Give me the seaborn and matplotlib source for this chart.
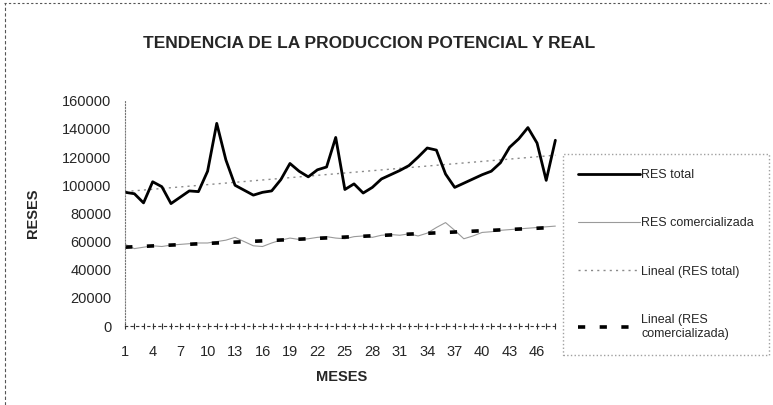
import pandas as pd
import seaborn as sns
import matplotlib.pyplot as plt
import numpy as np

meses = list(range(1, 49))
res_total = [95000, 94000, 87500, 102500, 99000, 87000, 91500, 96000, 95500, 110000,
             144000, 118000, 100000, 96500, 93000, 95000, 96000, 104000, 115500, 110000,
             106000, 111000, 113000, 134000, 97000, 101000, 94500, 98500, 104500, 107500,
             110500, 114000, 120000, 126500, 125000, 108000, 98500, 101500, 104500, 107500,
             110000, 116000, 127000, 133000, 141000, 130000, 103500, 132000]
res_comercializada = [58000, 55000, 56000, 57000, 56500, 57500, 58000, 58500, 59000, 59000,
                      60000, 61000, 63000, 60000, 57000, 56500, 59000, 61000, 62500, 61500,
                      62000, 63000, 63500, 62500, 62000, 63500, 64000, 63000, 64500, 65000,
                      64500, 65500, 64000, 66000, 70000, 73500, 68000, 62000, 64000, 66500,
                      67000, 68000, 68500, 69000, 69500, 70000, 70500, 71000]
y_ticks = [0, 20000, 40000, 60000, 80000, 100000, 120000, 140000, 160000]
x_ticks = list(range(1, 48, 3))

df = pd.DataFrame({"mes": meses, "total": res_total, "comer": res_comercializada})
# tendencias lineales (como en Excel)
p1 = np.polyfit(df["mes"], df["total"], 1)
p2 = np.polyfit(df["mes"], df["comer"], 1)
df["lin_total"] = np.polyval(p1, df["mes"])
df["lin_comer"] = np.polyval(p2, df["mes"])

sns.set_style("white")
plt.rcParams["font.family"] = ["Liberation Sans", "DejaVu Sans"]

fig = plt.figure(figsize=(7.73, 4.05), dpi=100)
ax = fig.add_axes([0.162, 0.195, 0.56, 0.556])

sns.lineplot(data=df, x="mes", y="comer", ax=ax, color="#9a9a9a", lw=0.8, label="RES comercializada")
sns.lineplot(data=df, x="mes", y="lin_total", ax=ax, color="#8a8a8a", lw=1.0,
             linestyle=(0, (1.5, 3)), label="Lineal (RES total)")
sns.lineplot(data=df, x="mes", y="lin_comer", ax=ax, color="black", lw=2.6,
             linestyle=(0, (2, 4)), label="Lineal (RES\ncomercializada)")
sns.lineplot(data=df, x="mes", y="total", ax=ax, color="black", lw=2.0, label="RES total")
for ln in ax.lines:
    ln.set_solid_joinstyle("round")

ax.set_xlim(1, 48.3)
ax.set_ylim(0, 160000)
ax.set_xticks(x_ticks)
ax.set_xticks(meses, minor=True)
ax.set_yticks(y_ticks)
ax.tick_params(axis="x", which="both", bottom=True, direction="inout", length=5, width=0.8,
               color="#333333", labelsize=10.5, pad=11)
ax.tick_params(axis="y", length=0, labelsize=10.5, pad=10)
for s in ["top", "right"]:
    ax.spines[s].set_visible(False)
ax.spines["left"].set_linestyle(":")
ax.spines["left"].set_color("#777777")
ax.spines["bottom"].set_linestyle((0, (2, 3)))
ax.spines["bottom"].set_color("#333333")
ax.set_xlabel("MESES", fontsize=10.5, fontweight="bold", labelpad=8)
ax.set_ylabel("RESES", fontsize=10.5, fontweight="bold", labelpad=16)

fig.text(0.478, 0.893, "TENDENCIA DE LA PRODUCCION POTENCIAL Y REAL",
         ha="center", va="center", fontsize=12.5, fontweight="bold")

ax.get_legend().remove()
h, l = ax.get_legend_handles_labels()
order = [3, 0, 1, 2]
leg = fig.legend([h[i] for i in order], [l[i] for i in order], loc="center left",
                 bbox_to_anchor=(0.728, 0.372), frameon=True, fontsize=9,
                 handlelength=5, labelspacing=2.9, borderpad=1.2, fancybox=False,
                 handletextpad=0.1, borderaxespad=0)
leg.get_frame().set_linestyle(":")
leg.get_frame().set_edgecolor("#888888")

# borde punteado de la hoja
fig.add_artist(plt.Line2D([0.005, 0.995], [0.993, 0.993], transform=fig.transFigure,
                          color="#555555", lw=0.8, linestyle=(0, (2, 2))))
fig.add_artist(plt.Line2D([0.006, 0.006], [0.0, 0.993], transform=fig.transFigure,
                          color="#555555", lw=0.8, linestyle=(0, (3, 2))))

fig.savefig("out.png", dpi=100)
